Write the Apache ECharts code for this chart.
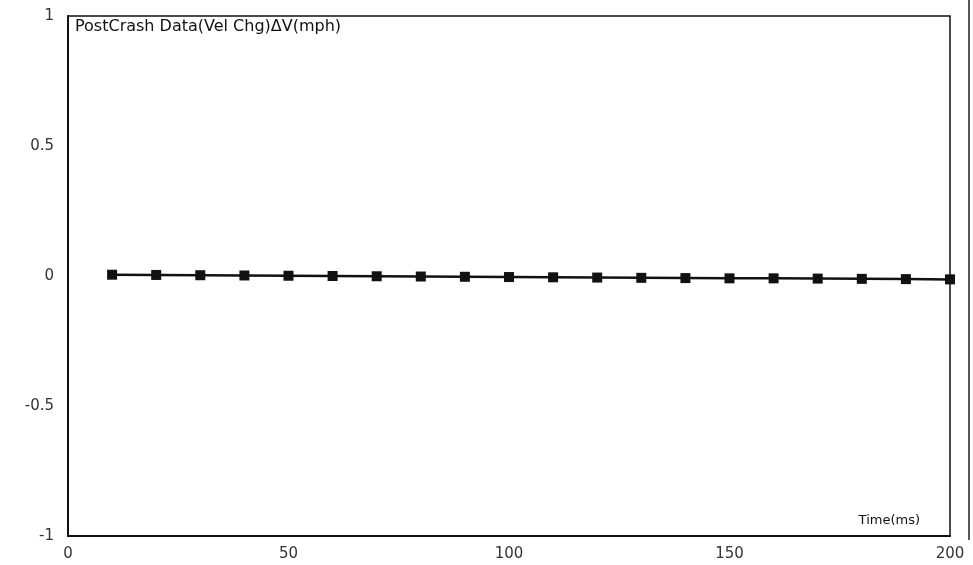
<!DOCTYPE html>
<html>
<head>
<meta charset="utf-8">
<script src="https://cdn.jsdelivr.net/npm/echarts@6/dist/echarts.min.js"></script>
<style>
html,body{margin:0;padding:0;background:#fff;}
#c{width:973px;height:565px;}
</style>
</head>
<body>
<div id="c"></div>
<script>
var timeMs = [10,20,30,40,50,60,70,80,90,100,110,120,130,140,150,160,170,180,190,200];
var deltaV = [0.005,0.004,0.003,0.002,0.001,0.0,-0.001,-0.002,-0.003,-0.004,-0.005,-0.006,-0.007,-0.008,-0.009,-0.009,-0.010,-0.011,-0.012,-0.013];
var yTicks = [-1,-0.5,0,0.5,1];
var xTicks = [0,50,100,150,200];
var titleText = 'PostCrash Data(Vel Chg)\u0394V(mph)';
var xName = 'Time(ms)';

var pts = timeMs.map(function(t,i){return [t, deltaV[i]];});
var chart = echarts.init(document.getElementById('c'));
var font = '"DejaVu Sans", sans-serif';
chart.setOption({
  backgroundColor:'#fff',
  animation:false,
  grid:{left:68,right:23,top:16,bottom:29,show:true,borderColor:'#111',borderWidth:1.5},
  graphic:[
    {type:'text',left:75,top:19,style:{text:titleText,font:'16px '+font,fill:'#111'}},
    {type:'text',right:53,top:514,style:{text:xName,font:'13px '+font,fill:'#111'}},
    {type:'line',shape:{x1:969,y1:0,x2:969,y2:540},style:{stroke:'#222',lineWidth:1.5}}
  ],
  xAxis:{type:'value',min:xTicks[0],max:xTicks[xTicks.length-1],interval:50,
    axisLine:{show:true,onZero:false,lineStyle:{color:'#111',width:2}},
    axisTick:{show:false},splitLine:{show:false},
    axisLabel:{color:'#333',fontSize:15,fontFamily:'DejaVu Sans',margin:11}},
  yAxis:{type:'value',min:yTicks[0],max:yTicks[yTicks.length-1],interval:0.5,
    axisLine:{show:true,lineStyle:{color:'#111',width:2}},
    axisTick:{show:false},splitLine:{show:false},
    axisLabel:{color:'#333',fontSize:15,fontFamily:'DejaVu Sans',margin:14}},
  series:[{type:'line',data:pts,symbol:'rect',symbolSize:10,
    lineStyle:{color:'#111',width:2.5},itemStyle:{color:'#111'}}]
});
</script>
</body>
</html>
